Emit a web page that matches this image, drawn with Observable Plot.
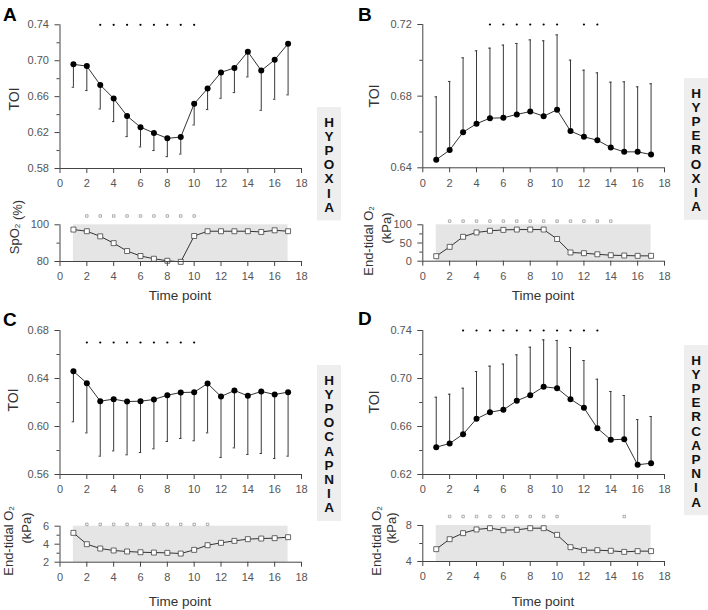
<!DOCTYPE html>
<html><head><meta charset="utf-8">
<script src="https://cdn.jsdelivr.net/npm/d3@7"></script>
<script src="https://cdn.jsdelivr.net/npm/@observablehq/plot@0.6"></script>
<style>
body{margin:0;background:#fff;}
#chart{position:relative;width:708px;height:610px;background:#fff;font-family:"Liberation Sans",Arial,Helvetica,sans-serif;}
</style></head><body><div id="chart"></div>
<script>
// ---------- data ----------
const timePoints = [1,2,3,4,5,6,7,8,9,10,11,12,13,14,15,16,17];
const xTicks = [0,2,4,6,8,10,12,14,16,18];

// Panel A – hypoxia
const toiA    = [0.696,0.694,0.673,0.658,0.6385,0.626,0.6196,0.6136,0.615,0.652,0.669,0.687,0.692,0.710,0.689,0.701,0.719];
const toiAEnd = [0.6705,0.6668,0.6463,0.6322,0.6155,0.604,0.600,0.5932,0.5961,0.6285,0.6456,0.6582,0.6645,0.682,0.6448,0.6571,0.662];
const sigToiA = [3,4,5,6,7,8,9,10];
const spo2A   = [97.4,96.5,93.7,90,85.7,83,81.5,80.4,79.8,93.9,96.5,96.5,96.5,96.5,96.1,97,96.5];
const sigBotA = [2,3,4,5,6,7,8,9,10];

// Panel B – hyperoxia
const toiB    = [0.6445,0.6499,0.6599,0.6646,0.6677,0.6679,0.6698,0.6714,0.6688,0.6724,0.6605,0.6573,0.6554,0.6513,0.6489,0.6489,0.6474];
const toiBEnd = [0.6796,0.6882,0.7014,0.7053,0.7068,0.7085,0.7094,0.7114,0.7109,0.7142,0.7001,0.6945,0.693,0.6878,0.688,0.6852,0.6869];
const sigToiB = [5,6,7,8,9,10,12,13];
const etO2B   = [13.8,39.4,67,79,83.5,86,87,87,87,61,24,22,19,16.5,15.6,14.7,14.7];
const sigBotB = [2,3,4,5,6,7,8,9,10,11,12,13,14];

// Panel C – hypocapnia
const toiC    = [0.6461,0.6361,0.6211,0.6228,0.6208,0.6211,0.6225,0.6261,0.6283,0.6286,0.6358,0.625,0.630,0.6256,0.6292,0.6267,0.6286];
const toiCEnd = [0.6039,0.5947,0.5753,0.5797,0.5764,0.5783,0.5814,0.5875,0.590,0.5881,0.5947,0.5742,0.5822,0.5767,0.5775,0.5733,0.5753];
const sigToiC = [2,3,4,5,6,7,8,9,10];
const etO2C   = [5.26,4.0,3.52,3.3,3.19,3.11,3.07,3.04,2.96,3.37,3.89,4.15,4.37,4.56,4.63,4.67,4.78];
const sigBotC = [2,3,4,5,6,7,8,9,10,11];

// Panel D – hypercapnia
const toiD    = [0.6428,0.6458,0.6536,0.6664,0.6719,0.6739,0.6814,0.6861,0.6931,0.6919,0.6828,0.6756,0.6586,0.6489,0.6494,0.6281,0.6294];
const toiDEnd = [0.6844,0.6869,0.6919,0.7058,0.7103,0.712,0.7197,0.7261,0.7322,0.7317,0.7258,0.715,0.6994,0.6892,0.6858,0.6658,0.6683];
const sigToiD = [3,4,5,6,7,8,9,10,11,12,13];
const etO2D   = [5.37,6.48,7.15,7.56,7.7,7.48,7.52,7.7,7.7,6.96,5.59,5.26,5.26,5.19,5.07,5.15,5.15];
const sigBotD = [2,3,4,5,6,7,8,9,10,15];

// tick labels
const toiTicksA = [0.58,0.62,0.66,0.70,0.74], toiMinorA = [0.60,0.64,0.68,0.72];
const toiTicksB = [0.64,0.68,0.72],           toiMinorB = [0.66,0.70];
const toiTicksC = [0.56,0.60,0.64,0.68],      toiMinorC = [0.58,0.62,0.66];
const toiTicksD = [0.62,0.66,0.70,0.74],      toiMinorD = [0.64,0.68,0.72];
const botTicksA = [80,100], botMinorA = [90];
const botTicksB = [0,50,100], botMinorB = [25,75];
const botTicksC = [2,4,6], botMinorC = [3,5];
const botTicksD = [4,8], botMinorD = [6];

const conditions = ["HYPOXIA","HYPEROXIA","HYPOCAPNIA","HYPERCAPNIA"];
const panelLetters = ["A","B","C","D"];

// ---------- drawing ----------
const FONT = '"Liberation Sans", Arial, Helvetica, sans-serif';
const chart = document.getElementById("chart");
const AX = "#444";

function place(svg, left, top) {
  svg.style.position = "absolute";
  svg.style.left = left + "px";
  svg.style.top = top + "px";
  svg.style.overflow = "visible";
  chart.appendChild(svg);
}
function margins(g) {
  return {
    width: g.width, height: g.height,
    marginLeft: g.px0 - g.left, marginRight: g.left + g.width - g.px18,
    marginTop: g.pyTop - g.top, marginBottom: g.top + g.height - g.pyBot
  };
}

function toiPlot(g, values, ends, ticks, minor, sig, sigLevel) {
  const data = timePoints.map((t, i) => ({t, v: values[i], e: ends[i]}));
  const sigData = sig.map(t => ({t, y: sigLevel}));
  const svg = Plot.plot({
    ...margins(g),
    x: {domain: [0, 18]},
    y: {domain: [ticks[0], ticks[ticks.length - 1]]},
    style: {fontFamily: FONT, fontSize: "11px", color: "#555", background: "transparent"},
    marks: [
      Plot.ruleX(data, {x: "t", y1: "v", y2: "e", stroke: "#3a3a3a", strokeWidth: 1}),
      Plot.ruleY(data, {y: "e", x1: d => d.t - 0.09, x2: d => d.t + 0.09, stroke: "#3a3a3a", strokeWidth: 1}),
      Plot.line(data, {x: "t", y: "v", stroke: "#333", strokeWidth: 1}),
      Plot.dot(data, {x: "t", y: "v", r: 3, fill: "#000"}),
      Plot.dot(sigData, {x: "t", y: "y", r: 1.1, fill: "#000"}),
      Plot.ruleX([0], {stroke: AX}),
      Plot.ruleY([ticks[0]], {stroke: AX}),
      Plot.axisY(ticks, {tickSize: 5, tickPadding: 6, tickFormat: d3.format(".2f"), label: null, stroke: AX, fontSize: 11}),
      Plot.axisY(minor, {tickSize: 3, tickFormat: () => "", label: null, stroke: AX}),
      Plot.axisX(xTicks, {tickSize: 5, tickPadding: 6, label: null, stroke: AX, fontSize: 11})
    ]
  });
  place(svg, g.left, g.top);
}

function botPlot(g, values, ticks, minor, sig, sigLevel) {
  const data = timePoints.map((t, i) => ({t, v: values[i]}));
  const sigData = sig.map(t => ({t, y: sigLevel}));
  const lo = ticks[0], hi = ticks[ticks.length - 1];
  const band = [{x1: timePoints[0], x2: timePoints[timePoints.length - 1], y1: lo, y2: hi}];
  const svg = Plot.plot({
    ...margins(g),
    x: {domain: [0, 18]},
    y: {domain: [lo, hi]},
    style: {fontFamily: FONT, fontSize: "11px", color: "#555", background: "transparent"},
    marks: [
      Plot.rect(band, {x1: "x1", x2: "x2", y1: "y1", y2: "y2", fill: "#e5e5e5"}),
      Plot.line(data, {x: "t", y: "v", stroke: "#333", strokeWidth: 1}),
      Plot.dot(data, {x: "t", y: "v", symbol: "square", r: 2.8, fill: "#fff", stroke: "#444", strokeWidth: 0.8}),
      Plot.dot(sigData, {x: "t", y: "y", symbol: "square", r: 1.4, fill: "#fff", stroke: "#999", strokeWidth: 0.8}),
      Plot.ruleX([0], {stroke: AX}),
      Plot.ruleY([lo], {stroke: AX}),
      Plot.axisY(ticks, {tickSize: 5, tickPadding: 6, label: null, stroke: AX, fontSize: 11}),
      Plot.axisY(minor, {tickSize: 3, tickFormat: () => "", label: null, stroke: AX}),
      Plot.axisX(xTicks, {tickSize: 5, tickPadding: 6, label: null, stroke: AX, fontSize: 11})
    ]
  });
  place(svg, g.left, g.top);
}

// TOI panels
toiPlot({left: 0, top: 0, width: 354, height: 200, px0: 59.5, px18: 301, pyTop: 24.3, pyBot: 168},
  toiA, toiAEnd, toiTicksA, toiMinorA, sigToiA, 0.74);
toiPlot({left: 354, top: 0, width: 354, height: 200, px0: 422.3, px18: 664, pyTop: 24, pyBot: 167.3},
  toiB, toiBEnd, toiTicksB, toiMinorB, sigToiB, 0.72);
toiPlot({left: 0, top: 300, width: 354, height: 200, px0: 59.5, px18: 301, pyTop: 330, pyBot: 474},
  toiC, toiCEnd, toiTicksC, toiMinorC, sigToiC, 0.67);
toiPlot({left: 354, top: 300, width: 354, height: 200, px0: 422.3, px18: 664, pyTop: 330, pyBot: 474},
  toiD, toiDEnd, toiTicksD, toiMinorD, sigToiD, 0.74);

// gas panels
botPlot({left: 0, top: 200, width: 354, height: 85, px0: 59.5, px18: 301, pyTop: 224.3, pyBot: 261},
  spo2A, botTicksA, botMinorA, sigBotA, 104.8);
botPlot({left: 354, top: 200, width: 354, height: 85, px0: 422.3, px18: 664, pyTop: 224.3, pyBot: 260.7},
  etO2B, botTicksB, botMinorB, sigBotB, 110);
botPlot({left: 0, top: 500, width: 354, height: 85, px0: 59.5, px18: 301, pyTop: 525.7, pyBot: 561.7},
  etO2C, botTicksC, botMinorC, sigBotC, 6.2);
botPlot({left: 354, top: 500, width: 354, height: 85, px0: 422.3, px18: 664, pyTop: 525, pyBot: 561},
  etO2D, botTicksD, botMinorD, sigBotD, 9);

// ---------- annotations overlay ----------
const ov = d3.create("svg").attr("width", 708).attr("height", 610)
  .style("position", "absolute").style("left", "0px").style("top", "0px")
  .style("pointer-events", "none").style("font-family", FONT);

// panel letters
[[3, 21], [358, 21], [3, 326], [358, 325]].forEach(([x, y], i) => {
  ov.append("text").attr("x", x).attr("y", y).attr("font-size", 19).attr("font-weight", "bold")
    .attr("fill", "#000").text(panelLetters[i]);
});

function rotLabel(cx, cy, parts, size) {
  const t = ov.append("text").attr("transform", `translate(${cx},${cy}) rotate(-90)`)
    .attr("text-anchor", "middle").attr("dominant-baseline", "central")
    .attr("font-size", size).attr("fill", "#333");
  parts.forEach(p => {
    if (p.sub) { t.append("tspan").attr("font-size", size * 0.62).attr("dy", 3).text(p.text);
      t.append("tspan").attr("dy", -3).text(""); }
    else t.append("tspan").text(p.text);
  });
}
// TOI labels
rotLabel(13.5, 99, [{text: "TOI"}], 14);
rotLabel(374, 96, [{text: "TOI"}], 14);
rotLabel(13, 400, [{text: "TOI"}], 14);
rotLabel(374, 402, [{text: "TOI"}], 14);
// gas labels
rotLabel(14, 227, [{text: "SpO"}, {text: "2", sub: true}, {text: " (%)"}], 13);
rotLabel(368, 241, [{text: "End-tidal O"}, {text: "2", sub: true}], 13);
rotLabel(386, 228, [{text: "(kPa)"}], 13);
rotLabel(8, 541, [{text: "End-tidal O"}, {text: "2", sub: true}], 13);
rotLabel(26, 528, [{text: "(kPa)"}], 13);
rotLabel(375.5, 541, [{text: "End-tidal O"}, {text: "2", sub: true}], 13);
rotLabel(391, 528, [{text: "(kPa)"}], 13);

// Time point labels
[[180, 295], [543, 295], [180, 601], [543, 601]].forEach(([x, y]) => {
  ov.append("text").attr("x", x).attr("y", y).attr("text-anchor", "middle")
    .attr("dominant-baseline", "central").attr("font-size", 13.5).attr("fill", "#333").text("Time point");
});

// condition boxes
const STEP = 14.2;
[[317, 107], [684, 78], [317, 365], [684, 345]].forEach(([x, y], i) => {
  const word = conditions[i];
  const h = 14 + word.length * STEP;
  ov.append("rect").attr("x", x).attr("y", y).attr("width", 24).attr("height", h).attr("fill", "#eeeeee");
  [...word].forEach((ch, j) => {
    ov.append("text").attr("x", x + 12).attr("y", y + 8 + STEP / 2 + j * STEP)
      .attr("text-anchor", "middle").attr("dominant-baseline", "central")
      .attr("font-size", 13.5).attr("font-weight", "bold").attr("fill", "#111").text(ch);
  });
});

chart.appendChild(ov.node());
</script>
</body></html>
